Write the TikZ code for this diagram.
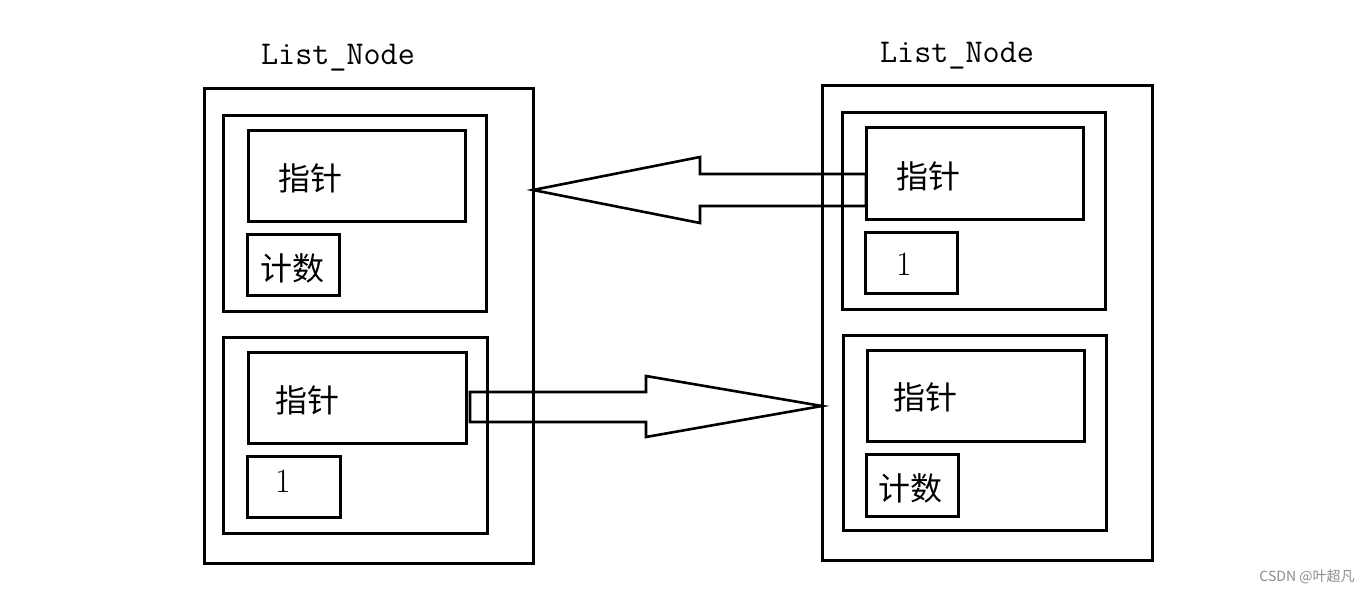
\documentclass[tikz,border=0pt]{standalone}
\usepackage{fontspec}
\newfontfamily\cjk{Noto Sans CJK SC}
\begin{document}
\begin{tikzpicture}[x=0.5pt,y=-0.5pt,
  lbl/.style={inner sep=0pt,font=\cjk\fontsize{16pt}{18pt}\selectfont},
  num/.style={inner sep=0pt,font=\fontsize{17pt}{19pt}\selectfont},
  ttl/.style={inner sep=0pt,font=\ttfamily\fontsize{16.6pt}{18pt}\selectfont},
  blk/.style={draw=black,line width=1.3pt,line join=miter}]
\useasboundingbox (0,0) rectangle (1372,593);
% helper: box from corners
\newcommand{\bx}[5]{\node[draw=black,line width=1.5pt,inner sep=0pt,outer sep=0pt,
  minimum width={(#4-#2)*0.5pt},minimum height={(#5-#3)*0.5pt}] (#1) at ({(#2+#4)/2},{(#3+#5)/2}) {};}
% left list node
\bx{LO}{204}{89}{533}{563}
\bx{LU}{223}{116}{486}{312}
\bx{LUp}{248}{131}{465}{222}
\bx{LUc}{247}{235}{339}{296}
\bx{LL}{223}{338}{487}{533}
\bx{LLp}{248}{353}{466}{444}
\bx{LLc}{247}{457}{340}{517}
% right list node
\bx{RO}{822}{86}{1152}{560}
\bx{RU}{842}{113}{1105}{310}
\bx{RUp}{866}{128}{1083}{220}
\bx{RUc}{865}{233}{957}{294}
\bx{RL}{843}{336}{1106}{530}
\bx{RLp}{867}{351}{1084}{442}
\bx{RLc}{866}{455}{958}{516}
% titles
\node[ttl] (t1) at (338,58) {List\_Node};
\node[ttl] (t2) at (957,56) {List\_Node};
% labels
\node[lbl] (a1) at (310,178) {指针};
\node[lbl] (a2) at (292,268) {计数};
\node[lbl] (a3) at (307,400) {指针};
\node[num] (a4) at (283,481) {1};
\node[lbl] (b1) at (928,176) {指针};
\node[num] (b2) at (904,264) {1};
\node[lbl] (b3) at (925,397) {指针};
\node[lbl] (b4) at (910,488) {计数};
% block arrows
\coordinate (tipA) at (LO.east |- 0,190);
\coordinate (endA) at (RUp.west |- 0,190);
\draw[blk] (tipA) -- (700,157) -- (700,174) -- (endA |- 0,174) -- (endA |- 0,206) -- (700,206) -- (700,223) -- cycle;
\coordinate (tipB) at (RO.west |- 0,406);
\coordinate (endB) at (LLp.east |- 0,406);
\draw[blk] (tipB) -- (646,376) -- (646,392) -- ([xshift=2pt]endB |- 0,392) -- ([xshift=2pt]endB |- 0,422) -- (646,422) -- (646,437) -- cycle;
% watermark
\node[inner sep=0pt,text=black!45,font=\cjk\fontsize{7pt}{8pt}\selectfont] (wm) at (1307,577) {CSDN @叶超凡};
\end{tikzpicture}
\end{document}
